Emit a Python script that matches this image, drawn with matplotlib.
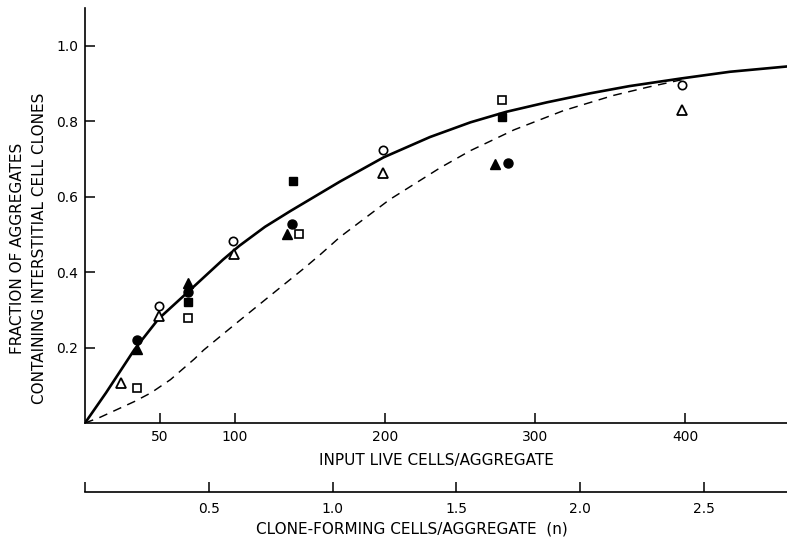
import matplotlib.pyplot as plt

# input live cells per aggregate -> fraction containing clones
open_circle_x = [49.3, 98.7, 198.9, 397.8]
open_circle_y = [0.309, 0.483, 0.723, 0.897]
open_triangle_x = [23.8, 49.3, 99.0, 198.9, 398.2]
open_triangle_y = [0.106, 0.283, 0.448, 0.663, 0.829]
filled_circle_x = [34.4, 68.4, 138.2, 282.2]
filled_circle_y = [0.221, 0.347, 0.528, 0.689]
filled_triangle_x = [34.4, 68.4, 134.9, 273.3]
filled_triangle_y = [0.195, 0.370, 0.501, 0.687]
open_square_x = [34.9, 68.4, 142.9, 278.2]
open_square_y = [0.093, 0.279, 0.501, 0.857]
filled_square_x = [68.4, 138.4, 278.2]
filled_square_y = [0.320, 0.642, 0.810]

# curves
solid_x = [0, 14, 33, 49, 68, 92, 103, 120, 137, 170, 199, 230, 257, 281,
           308, 337, 363, 397, 430, 468]
solid_y = [0, 0.080, 0.195, 0.276, 0.345, 0.433, 0.470, 0.520, 0.562, 0.640,
           0.704, 0.758, 0.797, 0.825, 0.850, 0.874, 0.893, 0.913, 0.931, 0.945]
dashed_x = [0, 10, 21.5, 33, 44, 57, 73, 79, 101, 123, 146, 157, 170, 203,
            237, 257, 286, 319, 352, 375, 398]
dashed_y = [0, 0.015, 0.036, 0.057, 0.080, 0.115, 0.170, 0.193, 0.265, 0.336,
            0.410, 0.447, 0.493, 0.592, 0.677, 0.722, 0.777, 0.828, 0.868,
            0.890, 0.910]

cells_per_clone = 165.0

x_ticks = [50, 100, 200, 300, 400]
y_ticks = [0.2, 0.4, 0.6, 0.8, 1.0]
n_ticks = [0, 0.5, 1.0, 1.5, 2.0, 2.5]
n_labels = ["", "0.5", "1.0", "1.5", "2.0", "2.5"]

fig = plt.figure(figsize=(7.87, 5.43), dpi=100)
ax = fig.add_axes([85 / 787, 120 / 543, 702 / 787, 415 / 543])

ax.plot(solid_x, solid_y, color="black", lw=1.9, solid_joinstyle="round")
ax.plot(dashed_x, dashed_y, color="black", lw=1.05, dashes=(6, 4.5))

ax.plot(open_circle_x, open_circle_y, "o", ms=6, mfc="white", mec="black", mew=1.2)
ax.plot(open_triangle_x, open_triangle_y, "^", ms=7, mfc="white", mec="black", mew=1.3)
ax.plot(filled_circle_x, filled_circle_y, "o", ms=6.5, color="black")
ax.plot(filled_triangle_x, filled_triangle_y, "^", ms=7.5, color="black")
ax.plot(open_square_x, open_square_y, "s", ms=5.5, mfc="white", mec="black", mew=1.2)
ax.plot(filled_square_x, filled_square_y, "s", ms=5.5, color="black")

ax.set_xlim(0, 468)
ax.set_ylim(0, 1.10)
ax.spines["top"].set_visible(False)
ax.spines["right"].set_visible(False)
ax.spines["left"].set_linewidth(1.2)
ax.spines["bottom"].set_linewidth(1.2)

ax.set_xticks(x_ticks)
ax.set_xticklabels([str(v) for v in x_ticks])
ax.set_yticks(y_ticks)
ax.set_yticklabels([f"{v:.1f}" for v in y_ticks])
ax.tick_params(direction="in", length=7, width=1.1, labelsize=10, pad=5)

ax.xaxis.set_label_coords(0.5, -0.072)
ax.set_xlabel("INPUT LIVE CELLS/AGGREGATE", fontsize=11, va="top")

ax.text(-0.081, 0.42,
        "FRACTION OF AGGREGATES\nCONTAINING INTERSTITIAL CELL CLONES",
        transform=ax.transAxes, rotation=90, ha="center", va="center",
        multialignment="center", fontsize=11, linespacing=1.6)

# second scale: clone-forming cells per aggregate
sec = ax.secondary_xaxis(-69 / 415, functions=(lambda x: x / cells_per_clone,
                                               lambda n: n * cells_per_clone))
sec.set_xticks(n_ticks)
sec.set_xticklabels(n_labels)
sec.spines["bottom"].set_linewidth(1.2)
sec.tick_params(direction="in", length=7, width=1.1, labelsize=10, pad=7)

ax.text(0.466, -0.238, "CLONE-FORMING CELLS/AGGREGATE  (n)",
        transform=ax.transAxes, ha="center", va="top", fontsize=11)

fig.savefig("out.png", dpi=100)
